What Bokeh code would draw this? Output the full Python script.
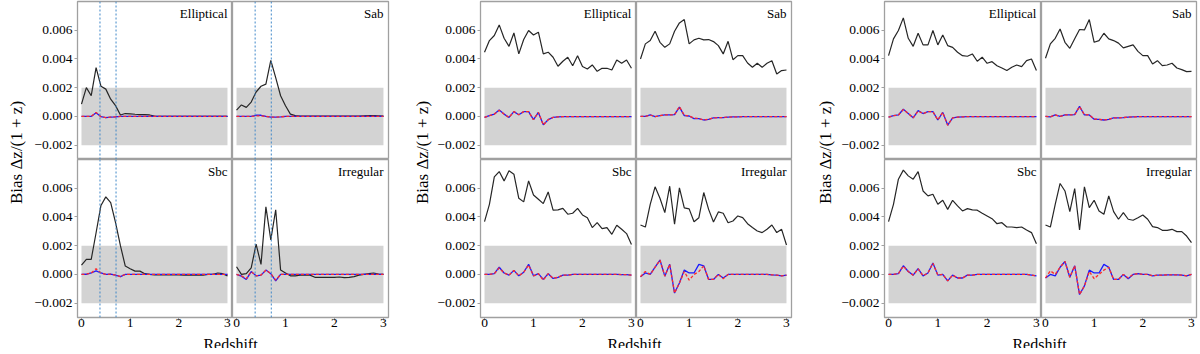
from math import pi
from bokeh.plotting import figure
from bokeh.layouts import row, column
from bokeh.models import Range1d, FixedTicker, CustomJSTickFormatter, BoxAnnotation, Span, Label
from bokeh.embed import file_html
from bokeh.resources import INLINE

redshift = [0.0, 0.1, 0.2, 0.3, 0.4, 0.5, 0.6, 0.7, 0.8, 0.9, 1.0, 1.1, 1.2, 1.3, 1.4, 1.5,
            1.6, 1.7, 1.8, 1.9, 2.0, 2.1, 2.2, 2.3, 2.4, 2.5, 2.6, 2.7, 2.8, 2.9, 3.0]
galaxy_types = ["Elliptical", "Sab", "Sbc", "Irregular"]
x_ticks = [0, 1, 2, 3]
y_ticks = [-0.002, 0.0, 0.002, 0.004, 0.006]
tolerance_band = [-0.002, 0.002]
marker_redshifts = [0.38, 0.71]
y_label = "Bias Δz/(1 + z)"
x_label = "Redshift"

# ---------------- group 1 ----------------
g1_ell_k = [0.00086, 0.0020, 0.00144, 0.0034, 0.0021, 0.0019, 0.0012, 0.00075, 0.0001, 0.0002, 0.00018,
            0.00015, 0.00013, 0.00012, 0.0001, 0.00002, 0, 0, 0, 0, 0, 0, 0, 0, 0, 0, 0, 0, 0, 0, 0]
g1_ell_b = [0, 0, 0, 0.00025, -0.00002, -0.00008, -0.00005, -0.00003, 0, 0, 0, 0, 0, 0, 0, 0,
            0, 0, 0, 0, 0, 0, 0, 0, 0, 0, 0, 0, 0, 0, 0]
g1_ell_r = [0, 0, 0, 0.00028, -0.00002, -0.00008, -0.00005, -0.00003, 0, 0, 0, 0, 0, 0, 0, 0,
            0, 0, 0, 0, 0, 0, 0, 0, 0, 0, 0, 0, 0, 0, 0]
g1_sab_k = [0.00044, 0.0008, 0.00063, 0.001, 0.0017, 0.0021, 0.00225, 0.0039, 0.0027, 0.00144, 0.00074,
            0.00016, 0.00005, 0.00003, 0.00002, 0.00002, 0.00002, 0.00002, 0.00002, 0.00002, 0.00002,
            0.00002, 0.00002, 0.00002, 0.00003, 0.00003, 0.00004, 0.00005, 0.00006, 0.00004, 0.00002]
g1_sab_b = [0, 0, 0, 0, 0.00008, 0.00008, 0, -0.00005, -0.00005, -0.00003, 0, 0, 0, 0, 0, 0,
            0, 0, 0, 0, 0, 0, 0, 0, 0, 0, 0, 0, 0, 0, 0]
g1_sab_r = [0, 0, 0, 0, 0.00004, 0.00004, 0, -0.00005, -0.00005, -0.00003, 0, 0, 0, 0, 0, 0,
            0, 0, 0, 0, 0, 0, 0, 0, 0, 0, 0, 0, 0, 0, 0]
g1_sbc_k = [0.00065, 0.00105, 0.00105, 0.0029, 0.0048, 0.0054, 0.005, 0.0036, 0.002, 0.00058, 0.0004,
            0.00023, 0.00023, 0.00005, 0, -0.00003, -0.00003, -0.00004, -0.00004, -0.00004, -0.00004,
            -0.00005, -0.00005, -0.00005, -0.00005, -0.00005, 0, 0, 0.0001, 0.00005, -0.0001]
g1_sbc_b = [0, 0.00001, 0.0001, 0.00025, 0.0001, 0, 0.00002, -0.00005, -0.00015, 0, 0, 0, 0, 0, 0, 0,
            0, 0, 0, 0, 0, 0, 0, 0, 0, 0, 0, 0, 0, 0, 0]
g1_sbc_r = [0, 0.00001, 0.0001, 0.0004, 0.0001, 0, 0.00002, -0.00005, -0.00015, 0, 0, 0, 0, 0, 0, 0,
            0, 0, 0, 0, 0, 0, 0, 0, 0, 0, 0, 0, 0, 0, 0]
g1_irr_k = [0.00053, 0, 0.00005, 0.00046, 0.0021, 0.0007, 0.0047, 0.0024, 0.0045, 0.0003, 0.0001,
            -0.0001, -0.0001, -0.00005, -0.00003, -0.00005, -0.0002, -0.0002, -0.0002, -0.0002, -0.0002,
            -0.00018, -0.00022, -0.0002, -0.00015, -0.00005, 0, 0.00005, 0.0001, 0.00003, 0]
g1_irr_b = [0, -0.00012, -0.00035, 0.0002, -0.0001, -0.00005, 0.0003, 0.00005, -0.00045, 0, 0, 0, 0, 0,
            0, 0, 0, 0, 0, 0, 0, 0, 0, 0, 0, 0, 0, 0, 0, 0, 0]
g1_irr_r = [0, -0.0001, -0.0003, 0.0002, -0.0001, -0.00005, 0.0003, 0.00005, -0.0004, 0, 0, 0, 0, 0,
            0, 0, 0, 0, 0, 0, 0, 0, 0, 0, 0, 0, 0, 0, 0, 0, 0]

# ---------------- group 2 ----------------
g2_ell_k = [0.00447, 0.00528, 0.00563, 0.00637, 0.00544, 0.00488, 0.00581, 0.00435, 0.00535, 0.00598,
            0.00567, 0.00586, 0.00435, 0.00447, 0.00412, 0.00349, 0.00384, 0.00412, 0.00353, 0.00423,
            0.00347, 0.0033, 0.00358, 0.00314, 0.00335, 0.00335, 0.00323, 0.00393, 0.0037, 0.00393, 0.00335]
g2_ell_b = [-0.00007, 0.00005, 0.00016, 0.00044, 0.00016, -0.00007, 0.00033, 0.00012, 0.00033, 0.00033,
            -0.00023, 0.00028, -0.00058, -0.00023, -0.00007, -0.00003, -0.00002, -0.00002, -0.00001,
            -0.00001, -0.00001, -0.00001, -0.00001, -0.00001, -0.00001, -0.00001, -0.00001, -0.00001,
            -0.00001, -0.00001, -0.00001]
g2_ell_r = [-0.00007, 0.00005, 0.00016, 0.00042, 0.00016, -0.00007, 0.00033, 0.00012, 0.00033, 0.00033,
            -0.00023, 0.00028, -0.0006, -0.00023, -0.00007, -0.00003, -0.00002, -0.00002, -0.00001,
            -0.00001, -0.00001, -0.00001, -0.00001, -0.00001, -0.00001, -0.00001, -0.00001, -0.00001,
            -0.00001, -0.00001, -0.00001]
g2_sab_k = [0.004, 0.00505, 0.00528, 0.00593, 0.00516, 0.00481, 0.00505, 0.00593, 0.00651, 0.00674,
            0.00505, 0.00533, 0.00544, 0.00533, 0.00535, 0.00521, 0.00493, 0.00435, 0.00523, 0.00395,
            0.00423, 0.00423, 0.00372, 0.00342, 0.0037, 0.00342, 0.0037, 0.00388, 0.00295, 0.00319, 0.00323]
g2_sab_b = [0, 0, 0.0001, -0.00002, 0.00005, 0.0001, 0.0001, 0.00012, 0.00065, 0.00005, 0.00003,
            -0.00015, -0.00015, -0.00025, -0.0002, -0.0001, -0.00008, -0.00008, -0.00005, -0.00003,
            -0.00003, -0.00002, -0.00002, -0.00002, -0.00002, -0.00002, -0.00002, -0.00002, -0.00002,
            -0.00002, -0.00002]
g2_sab_r = [0, 0, 0.0001, -0.00002, 0.00005, 0.0001, 0.0001, 0.00012, 0.00068, 0.00008, 0.00003,
            -0.00012, -0.00015, -0.00025, -0.0002, -0.0001, -0.00008, -0.00008, -0.00005, -0.00003,
            -0.00003, -0.00002, -0.00002, -0.00002, -0.00002, -0.00002, -0.00002, -0.00002, -0.00002,
            -0.00002, -0.00002]
g2_sbc_k = [0.00367, 0.00488, 0.00679, 0.00716, 0.00651, 0.00721, 0.00698, 0.0053, 0.00505, 0.00651,
            0.00553, 0.00523, 0.00493, 0.00574, 0.00447, 0.00449, 0.0046, 0.00419, 0.00426, 0.0046,
            0.00414, 0.00395, 0.00326, 0.0036, 0.00319, 0.00326, 0.00279, 0.00342, 0.00314, 0.00284, 0.00209]
g2_sbc_b = [0, 0, 0.00005, 0.0005, 0.0001, -0.00005, 0.00028, -0.0001, 0.00015, 0.0007, -0.0001,
            0.00005, -0.00035, 0.00005, -0.00028, -0.0002, -0.00005, -0.00005, 0, 0, 0, 0, 0, 0, 0, 0,
            0, 0, -0.00001, -0.00002, -0.00005]
g2_sbc_r = [0, 0, 0.00005, 0.00045, 0.0001, -0.00005, 0.00028, -0.0001, 0.00015, 0.00065, -0.0001,
            0.00005, -0.0004, 0.00005, -0.00028, -0.0002, -0.00005, -0.00005, 0, 0, 0, 0, 0, 0, 0, 0,
            0, 0, -0.00001, -0.00002, -0.00005]
g2_irr_k = [0.00344, 0.0033, 0.00488, 0.0061, 0.0053, 0.0043, 0.00614, 0.00349, 0.00602, 0.00463,
            0.00456, 0.00367, 0.00395, 0.0057, 0.00453, 0.00365, 0.00435, 0.00426, 0.0036, 0.00372,
            0.00407, 0.00395, 0.00353, 0.00326, 0.00302, 0.00291, 0.00314, 0.00344, 0.00291, 0.00314, 0.00205]
g2_irr_b = [-0.00016, 0.0001, 0.0, 0.0005, 0.001, -0.00012, 0.0007, -0.0013, -0.0006, 0.0003, 0.0001,
            0.0001, 0.0007, 0.0006, -0.00035, -0.00035, 0.0, -0.00025, 0.0, 0.0, 0.0, 0, 0, 0, 0, 0, 0,
            -0.00003, -0.00005, -0.0001, -0.00005]
g2_irr_r = [-0.00016, 0.0002, 0.0, 0.0005, 0.001, -0.00012, 0.0007, -0.0013, -0.0006, 0.0002, -0.0004,
            0.0, 0.0002, 0.0006, -0.00035, -0.00035, 0.0, -0.0003, 0.0, 0.0, 0.0, 0, 0, 0, 0, 0, 0,
            -0.00003, -0.00005, -0.0001, -0.00005]

# ---------------- group 3 ----------------
g3_ell_k = [0.00423, 0.0054, 0.00598, 0.00686, 0.00544, 0.00488, 0.00579, 0.00498, 0.00498, 0.00598,
            0.00498, 0.00567, 0.00493, 0.00481, 0.00447, 0.00423, 0.00419, 0.00435, 0.00384, 0.00412,
            0.0037, 0.00381, 0.00353, 0.00337, 0.00319, 0.00342, 0.00358, 0.00347, 0.00388, 0.004, 0.00319]
g3_ell_b = [-0.00005, 0.00005, 0.0001, 0.0005, 0.0002, -0.0001, 0.0004, 0.0002, 0.00033, 0.00033,
            -0.00025, 0.00028, -0.0006, -0.0001, -0.00005, -0.00003, -0.00001, -0.00001, -0.00001,
            -0.00001, -0.00001, -0.00001, -0.00001, -0.00001, -0.00001, -0.00001, -0.00001, -0.00001,
            -0.00001, -0.00001, -0.00001]
g3_ell_r = [-0.00005, 0.00005, 0.0001, 0.00048, 0.0002, -0.0001, 0.00038, 0.0002, 0.00033, 0.00033,
            -0.00025, 0.00028, -0.00062, -0.0001, -0.00005, -0.00003, -0.00001, -0.00001, -0.00001,
            -0.00001, -0.00001, -0.00001, -0.00001, -0.00001, -0.00001, -0.00001, -0.00001, -0.00001,
            -0.00001, -0.00001, -0.00001]
g3_sab_k = [0.00405, 0.00505, 0.00544, 0.00609, 0.00516, 0.00474, 0.0054, 0.00605, 0.00602, 0.00674,
            0.00516, 0.00528, 0.00579, 0.0054, 0.00528, 0.0051, 0.00477, 0.00488, 0.00498, 0.00453,
            0.00423, 0.00423, 0.00365, 0.00388, 0.00353, 0.00358, 0.0037, 0.00337, 0.00326, 0.00312, 0.00314]
g3_sab_b = [0, -0.00003, 0.0001, 0.0, 0.0001, 0.0001, 0.00012, 0.0007, 0.0001, 0.0001, -0.0002, -0.0002,
            -0.00025, -0.0002, -0.0001, -0.0001, -0.00008, -0.00005, -0.00003, -0.00002, -0.00002,
            -0.00002, -0.00002, -0.00002, -0.00002, -0.00002, -0.00002, -0.00002, -0.00002, -0.00002,
            -0.00002]
g3_sab_r = [0, -0.00003, 0.0001, 0.0, 0.0001, 0.0001, 0.00012, 0.00068, 0.00012, 0.0001, -0.00018,
            -0.0002, -0.00025, -0.0002, -0.0001, -0.0001, -0.00008, -0.00005, -0.00003, -0.00002,
            -0.00002, -0.00002, -0.00002, -0.00002, -0.00002, -0.00002, -0.00002, -0.00002, -0.00002,
            -0.00002, -0.00002]
g3_sbc_k = [0.00367, 0.00488, 0.00663, 0.00726, 0.00686, 0.00663, 0.00716, 0.00581, 0.00547, 0.00558,
            0.00488, 0.00516, 0.00453, 0.00516, 0.00477, 0.00442, 0.00458, 0.00449, 0.00447, 0.00426,
            0.00407, 0.00388, 0.00353, 0.0036, 0.0033, 0.0033, 0.00326, 0.0033, 0.00309, 0.00291, 0.00214]
g3_sbc_b = [0, 0, 0.00005, 0.0006, 0.0002, -0.00005, 0.0004, -0.0001, 0.0001, 0.0008, -0.00005, 0.0,
            -0.00045, -0.00005, -0.00025, -0.00025, -0.00005, -0.00005, 0, 0, 0, 0, 0, 0, 0, 0, 0, 0,
            0, -0.00005, -0.0001]
g3_sbc_r = [0, 0, 0.00005, 0.00058, 0.0002, -0.00005, 0.00038, -0.0001, 0.0001, 0.00078, -0.00005, 0.0,
            -0.00045, -0.00005, -0.00025, -0.00025, -0.00005, -0.00005, 0, 0, 0, 0, 0, 0, 0, 0, 0, 0,
            0, -0.00005, -0.0001]
g3_irr_k = [0.00344, 0.0033, 0.00488, 0.00633, 0.00581, 0.00437, 0.00598, 0.00309, 0.0061, 0.00465,
            0.00516, 0.00442, 0.00419, 0.00547, 0.00437, 0.00384, 0.0043, 0.00384, 0.00377, 0.00395,
            0.00414, 0.00384, 0.00333, 0.00326, 0.00307, 0.00307, 0.00314, 0.00298, 0.00298, 0.00267, 0.00221]
g3_irr_b = [-0.00025, 0.0, -0.0001, 0.0005, 0.0009, -0.0002, 0.0006, -0.0014, -0.0008, 0.0003, 0.0001,
            0.0001, 0.0007, 0.0005, -0.00035, -0.00035, 0.0, -0.0003, 0.0, 0.00005, 0.0, 0, -0.0001,
            -0.00005, -0.00005, -0.00003, -0.00003, -0.00003, -0.00005, -0.0001, 0.0]
g3_irr_r = [-0.00025, 0.00025, 0.0, 0.0005, 0.0009, -0.0002, 0.0006, -0.0014, -0.0008, 0.0002, -0.0003,
            0.0, 0.0003, 0.0005, -0.00035, -0.00035, 0.0, -0.00025, 0.0, 0.00005, 0.0, 0, -0.0001,
            -0.00005, -0.00005, -0.00003, -0.00003, -0.00003, -0.00005, -0.0001, 0.0]

SERIF = "Liberation Serif"
FRAME_COLOR = "#a0a0a0"
FRAME_H = 158
TOP_PAD = 1
X_RANGE = (-0.082, 3.103)
Y_RANGE = (-0.003, 0.008)


def panel(title, k, b, r, fw, bl, br, left_axis, bottom_axis, vlines):
    p = figure(frame_width=fw, frame_height=FRAME_H,
               x_range=Range1d(*X_RANGE), y_range=Range1d(*Y_RANGE),
               output_backend="svg", toolbar_location=None, title=None,
               min_border_left=bl, min_border_right=br,
               min_border_top=0 if bottom_axis else TOP_PAD, min_border_bottom=0,
               outline_line_color=FRAME_COLOR, outline_line_width=1.3,
               background_fill_color="white", border_fill_color=None)
    p.xgrid.visible = False
    p.ygrid.visible = False
    p.add_layout(BoxAnnotation(left=0, right=3, bottom=tolerance_band[0], top=tolerance_band[1],
                               fill_color="#d3d3d3", fill_alpha=1.0, line_color=None, level="underlay"))
    for loc in vlines:
        p.add_layout(Span(location=loc, dimension="height", line_color="#3f87c8",
                          line_dash="2 2", line_width=1.0))
    p.line(redshift, k, line_color="#262626", line_width=1.2)
    p.line(redshift, b, line_color="#1a1aff", line_width=1.3)
    p.line(redshift, r, line_color="#ff2a2a", line_width=1.3, line_dash="3 2")
    p.add_layout(Label(x=3.0, y=0.0077, text=title, text_align="right", text_baseline="top",
                       text_font=SERIF, text_font_size="13px", text_color="black"))
    xa = p.xaxis[0]
    ya = p.yaxis[0]
    for ax in (xa, ya):
        ax.axis_line_color = None
        ax.major_tick_line_color = FRAME_COLOR
        ax.minor_tick_line_color = None
        ax.major_tick_in = 0
        ax.major_tick_out = 3
        ax.major_label_text_font = SERIF
        ax.major_label_text_font_size = "13.5px"
        ax.major_label_text_color = "black"
    xa.ticker = FixedTicker(ticks=x_ticks)
    xa.major_label_standoff = -2
    ya.ticker = FixedTicker(ticks=y_ticks)
    ya.formatter = CustomJSTickFormatter(
        code="return (tick < -1e-12 ? '\\u2212' : '') + Math.abs(tick).toFixed(3);")
    ya.major_label_standoff = 2
    xa.visible = bottom_axis
    ya.visible = left_axis
    return p


def group(series, left_w, left_bl, right_w, right_br, ylab_w, ylab_x, vlines):
    (ek, eb, er), (sk, sb, sr), (ck, cb, cr), (ik, ib, ir) = series
    pe = panel(galaxy_types[0], ek, eb, er, left_w, left_bl, 0, True, False, vlines)
    ps = panel(galaxy_types[1], sk, sb, sr, right_w, 0, right_br, False, False, vlines)
    pc = panel(galaxy_types[2], ck, cb, cr, left_w, left_bl, 0, True, True, vlines)
    pi_ = panel(galaxy_types[3], ik, ib, ir, right_w, 0, right_br, False, True, vlines)
    total_w = left_w + left_bl + right_w + right_br
    xl_h = 19
    xl = figure(width=total_w, height=xl_h, x_range=Range1d(0, total_w), y_range=Range1d(0, xl_h),
                x_axis_type=None, y_axis_type=None, min_border=0, outline_line_color=None,
                toolbar_location=None, output_backend="svg", title=None,
                background_fill_color=None, border_fill_color=None)
    xl.add_layout(Label(x=left_bl + left_w - 2, y=4.3, text=x_label, text_align="center",
                        text_baseline="alphabetic", text_font=SERIF, text_font_size="16px",
                        text_color="black"))
    yl_h = 2 * FRAME_H + TOP_PAD
    yl = figure(width=ylab_w, height=yl_h, x_range=Range1d(0, ylab_w), y_range=Range1d(0, yl_h),
                x_axis_type=None, y_axis_type=None, min_border=0, outline_line_color=None,
                toolbar_location=None, output_backend="svg", title=None,
                background_fill_color=None, border_fill_color=None)
    yl.add_layout(Label(x=ylab_x, y=yl_h - 152, text=y_label, angle=pi / 2, text_align="center",
                        text_baseline="middle", text_font=SERIF, text_font_size="17px",
                        text_color="black"))
    return row(yl, column(row(pe, ps), row(pc, pi_), xl))


g1 = group([(g1_ell_k, g1_ell_b, g1_ell_r), (g1_sab_k, g1_sab_b, g1_sab_r),
            (g1_sbc_k, g1_sbc_b, g1_sbc_r), (g1_irr_k, g1_irr_b, g1_irr_r)],
           155, 51, 156, 24, 26, 16, marker_redshifts)
g2 = group([(g2_ell_k, g2_ell_b, g2_ell_r), (g2_sab_k, g2_sab_b, g2_sab_r),
            (g2_sbc_k, g2_sbc_b, g2_sbc_r), (g2_irr_k, g2_irr_b, g2_irr_r)],
           156, 46, 155, 23, 22, 10, [])
g3 = group([(g3_ell_k, g3_ell_b, g3_ell_r), (g3_sab_k, g3_sab_b, g3_sab_r),
            (g3_sbc_k, g3_sbc_b, g3_sbc_r), (g3_irr_k, g3_irr_b, g3_irr_r)],
           157, 48, 155, 3, 22, 11, [])

root = row(g1, g2, g3)

open("out.html", "w").write(file_html(root, INLINE))
